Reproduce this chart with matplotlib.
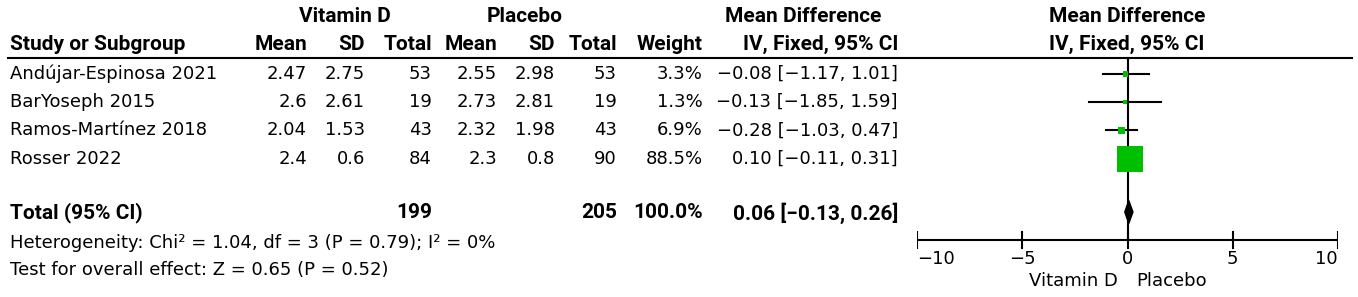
import matplotlib
matplotlib.use("Agg")
import matplotlib.pyplot as plt
import numpy as np

# ---- data ----
studies = ["Andújar-Espinosa 2021", "BarYoseph 2015", "Ramos-Martínez 2018", "Rosser 2022"]
vd_mean = ["2.47", "2.6", "2.04", "2.4"]
vd_sd = ["2.75", "2.61", "1.53", "0.6"]
vd_total = [53, 19, 43, 84]
pl_mean = ["2.55", "2.73", "2.32", "2.3"]
pl_sd = ["2.98", "2.81", "1.98", "0.8"]
pl_total = [53, 19, 43, 90]
weights = [3.3, 1.3, 6.9, 88.5]
md = [-0.08, -0.13, -0.28, 0.10]
ci_lo = [-1.17, -1.85, -1.03, -0.11]
ci_hi = [1.01, 1.59, 0.47, 0.31]
total_vd = 199
total_pl = 205
total_weight = 100.0
total_md = 0.06
total_lo = -0.13
total_hi = 0.26
heterogeneity = "Heterogeneity: Chi² = 1.04, df = 3 (P = 0.79); I² = 0%"
overall = "Test for overall effect: Z = 0.65 (P = 0.52)"
xticks = [-10, -5, 0, 5, 10]
left_label = "Vitamin D"
right_label = "Placebo"

W, H = 1358, 297
fig = plt.figure(figsize=(W / 100, H / 100), dpi=100)
plt.rcParams['font.family'] = ['DejaVu Sans']
FS = 13      # regular text
FB = 15      # bold text
BFAM = ['Roboto', 'DejaVu Sans']

ax = fig.add_axes([0, 0, 1, 1])
ax.set_xlim(0, W)
ax.set_ylim(H, 0)
ax.axis("off")

def fmt(v):
    return f"{v:.2f}".replace("-", "\u2212")

def ci_text(m, lo, hi):
    return f"{fmt(m)} [{fmt(lo)}, {fmt(hi)}]"

def btext(x, y, s, ha):
    ax.text(x, y + 1, s, ha=ha, va="center", fontsize=FB, fontweight="bold", family=BFAM)

row_y = [74 + 28.2 * i for i in range(len(studies))]
tot_y = 212

# headers
btext(345, 16, "Vitamin D", "center")
btext(525, 16, "Placebo", "center")
btext(803, 16, "Mean Difference", "center")
btext(1127, 16, "Mean Difference", "center")
btext(1127, 43, "IV, Fixed, 95% CI", "center")
btext(10, 43, "Study or Subgroup", "left")
cols_r = [307, 365, 432, 497, 555, 617, 703, 898]
hdrs = ["Mean", "SD", "Total", "Mean", "SD", "Total", "Weight", "IV, Fixed, 95% CI"]
for xr, h in zip(cols_r, hdrs):
    btext(xr, 43, h, "right")
ax.plot([8, 1352], [58, 58], color="black", lw=1.5)

for i, y in enumerate(row_y):
    vals = [vd_mean[i], vd_sd[i], str(vd_total[i]), pl_mean[i], pl_sd[i],
            str(pl_total[i]), f"{weights[i]:.1f}%", ci_text(md[i], ci_lo[i], ci_hi[i])]
    ax.text(10, y, studies[i], ha="left", va="center", fontsize=FS)
    for xr, v in zip(cols_r, vals):
        ax.text(xr, y, v, ha="right", va="center", fontsize=FS)

btext(10, tot_y, "Total (95% CI)", "left")
btext(cols_r[2], tot_y, str(total_vd), "right")
btext(cols_r[5], tot_y, str(total_pl), "right")
btext(cols_r[6], tot_y, f"{total_weight:.1f}%", "right")
btext(cols_r[7], tot_y, ci_text(total_md, total_lo, total_hi), "right")
ax.text(10, 243, heterogeneity, ha="left", va="center", fontsize=FS)
ax.text(10, 270, overall, ha="left", va="center", fontsize=FS)

# forest axes: x data -10..10 maps to pixel 917..1338, y in pixels
x0p, x1p = 917, 1338
fa = fig.add_axes([x0p / W, 0, (x1p - x0p) / W, 1])
fa.set_xlim(-10, 10)
fa.set_ylim(H, 0)
fa.axis("off")
fa.patch.set_alpha(0)

axis_y = 240
fa.plot([0, 0], [58, axis_y], color="black", lw=1.5, zorder=1)
for i, y in enumerate(row_y):
    fa.plot([ci_lo[i], ci_hi[i]], [y, y], color="black", lw=1.5, zorder=2)
maxw = max(weights)
sizes_px = [26 * np.sqrt(w / maxw) for w in weights]
sizes_px = [max(s, 3.5) for s in sizes_px]
fa.scatter(md, row_y, marker="s", s=[(s * 0.72) ** 2 for s in sizes_px],
           color="#00BE00", edgecolors="none", zorder=3)
fa.fill([total_lo, total_md, total_hi, total_md],
        [tot_y, tot_y - 11.5, tot_y, tot_y + 11.5], color="black", zorder=3)

fa.plot([-10, 10], [axis_y, axis_y], color="black", lw=1.5)
for t in xticks:
    fa.plot([t, t], [axis_y - 8, axis_y + 8], color="black", lw=1.5)
    ha = "left" if t == xticks[0] else ("right" if t == xticks[-1] else "center")
    fa.text(t, 259, f"{t}".replace("-", "\u2212"), ha=ha, va="center", fontsize=FS)
fa.text(-0.45, 281, left_label, ha="right", va="center", fontsize=FS)
fa.text(0.4, 281, right_label, ha="left", va="center", fontsize=FS)

fig.savefig("out.png", dpi=100)
